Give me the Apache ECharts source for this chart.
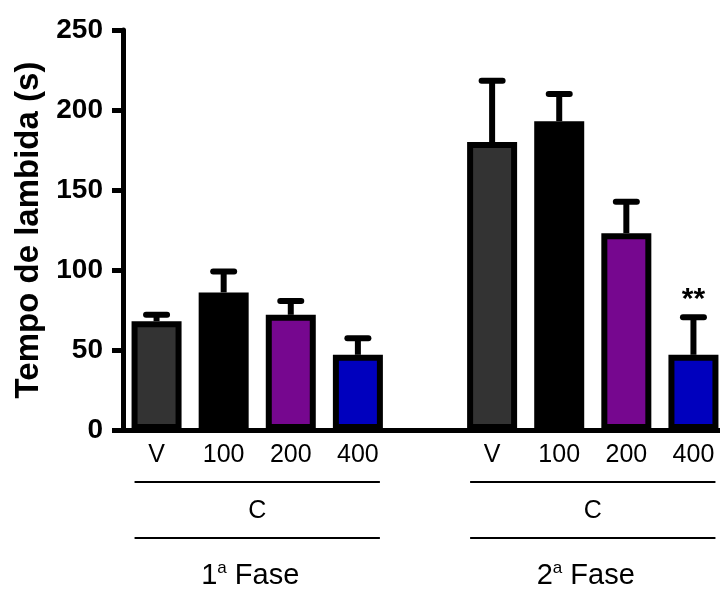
<!DOCTYPE html>
<html>
<head>
<meta charset="utf-8">
<script src="https://cdn.jsdelivr.net/npm/echarts@6/dist/echarts.min.js"></script>
<style>html,body{margin:0;padding:0;background:#fff}#c{width:720px;height:590px}</style>
</head>
<body>
<div id="c"></div>
<script>
// ---- data ----
var tickLabels = ['V', '100', '200', '400', '', 'V', '100', '200', '400'];
var means = [68, 86, 72, 47, null, 180, 193, 123, 47];
var sem = [4, 13, 8.6, 10.3, null, 38.3, 17, 19.7, 23.4];
var barColors = ['#333333', '#000000', '#76078f', '#0000be', null, '#333333', '#000000', '#76078f', '#0000be'];
var signif = ['', '', '', '', '', '', '', '', '**'];
var groupLabels = ['C', 'C'];
var phaseLabels = ['1{sup|a} Fase', '2{sup|a} Fase'];
var yTicks = [0, 50, 100, 150, 200, 250];

var FONT = 'Liberation Sans, Arial, sans-serif';
var chart = echarts.init(document.getElementById('c'), null, {renderer: 'canvas'});

var barData = means.map(function (v, i) {
  return v == null ? null : {value: v, itemStyle: {color: barColors[i]}};
});
var errData = means.map(function (v, i) {
  return v == null ? null : [i, v, v + sem[i]];
});

var option = {
  animation: false,
  backgroundColor: '#ffffff',
  grid: {left: 123, top: 30, width: 604, height: 400, containLabel: false, outerBoundsMode: 'none'},
  xAxis: {
    type: 'category',
    data: tickLabels,
    axisLine: {lineStyle: {color: '#000', width: 5}},
    axisTick: {show: false},
    axisLabel: {color: '#000', fontFamily: FONT, fontSize: 25, margin: 13, interval: 0}
  },
  yAxis: {
    type: 'value',
    min: yTicks[0], max: yTicks[yTicks.length - 1], interval: 50,
    name: 'Tempo de lambida (s)',
    nameLocation: 'middle',
    nameRotate: 90,
    nameGap: 77,
    nameTextStyle: {color: '#000', fontFamily: FONT, fontSize: 33, fontWeight: 'bold'},
    axisLine: {show: true, lineStyle: {color: '#000', width: 5}},
    axisTick: {show: true, length: 11, lineStyle: {color: '#000', width: 5}},
    axisLabel: {color: '#000', fontFamily: FONT, fontSize: 28, fontWeight: 'bold', margin: 20},
    splitLine: {show: false}
  },
  series: [
    {
      type: 'bar',
      data: barData,
      barWidth: 50,
      itemStyle: {borderColor: '#000', borderWidth: 6},
      z: 2
    },
    {
      type: 'custom',
      data: errData,
      z: 3,
      renderItem: function (params, api) {
        var idx = api.value(0);
        var base = api.coord([idx, api.value(1)]);
        var top = api.coord([idx, api.value(2)]);
        var children = [
          {type: 'line', shape: {x1: base[0], y1: base[1], x2: top[0], y2: top[1]},
           style: {stroke: '#000', lineWidth: 6}},
          {type: 'line', shape: {x1: top[0] - 10.5, y1: top[1], x2: top[0] + 10.5, y2: top[1]},
           style: {stroke: '#000', lineWidth: 6, lineCap: 'round'}}
        ];
        if (signif[idx]) {
          children.push({type: 'text', x: top[0], y: top[1] - 3,
            style: {text: signif[idx], fill: '#000', font: 'bold 30px ' + FONT, align: 'center', verticalAlign: 'bottom'}});
        }
        return {type: 'group', children: children};
      }
    }
  ]
};
chart.setOption(option);

// group annotations beneath the axis
function px(i) { return chart.convertToPixel({xAxisIndex: 0}, i); }
var graphics = [];
var groups = [[0, 3], [5, 8]];
groups.forEach(function (g, k) {
  var x1 = px(g[0]) - 22, x2 = px(g[1]) + 22, cx = (x1 + x2) / 2;
  graphics.push({type: 'line', shape: {x1: x1, y1: 482, x2: x2, y2: 482}, style: {stroke: '#000', lineWidth: 2}});
  graphics.push({type: 'line', shape: {x1: x1, y1: 538, x2: x2, y2: 538}, style: {stroke: '#000', lineWidth: 2}});
  graphics.push({type: 'text', x: cx, y: 511, style: {text: groupLabels[k], fill: '#000', font: '25px ' + FONT, align: 'center', verticalAlign: 'middle'}});
  graphics.push({type: 'text', x: cx - 7, y: 576, style: {
    text: phaseLabels[k], fill: '#000', font: '29px ' + FONT, align: 'center', verticalAlign: 'middle',
    rich: {sup: {fontSize: 17, fontFamily: FONT, verticalAlign: 'top', padding: [0, 0, 16, 0]}}
  }});
});
chart.setOption({graphic: graphics});
</script>
</body>
</html>
